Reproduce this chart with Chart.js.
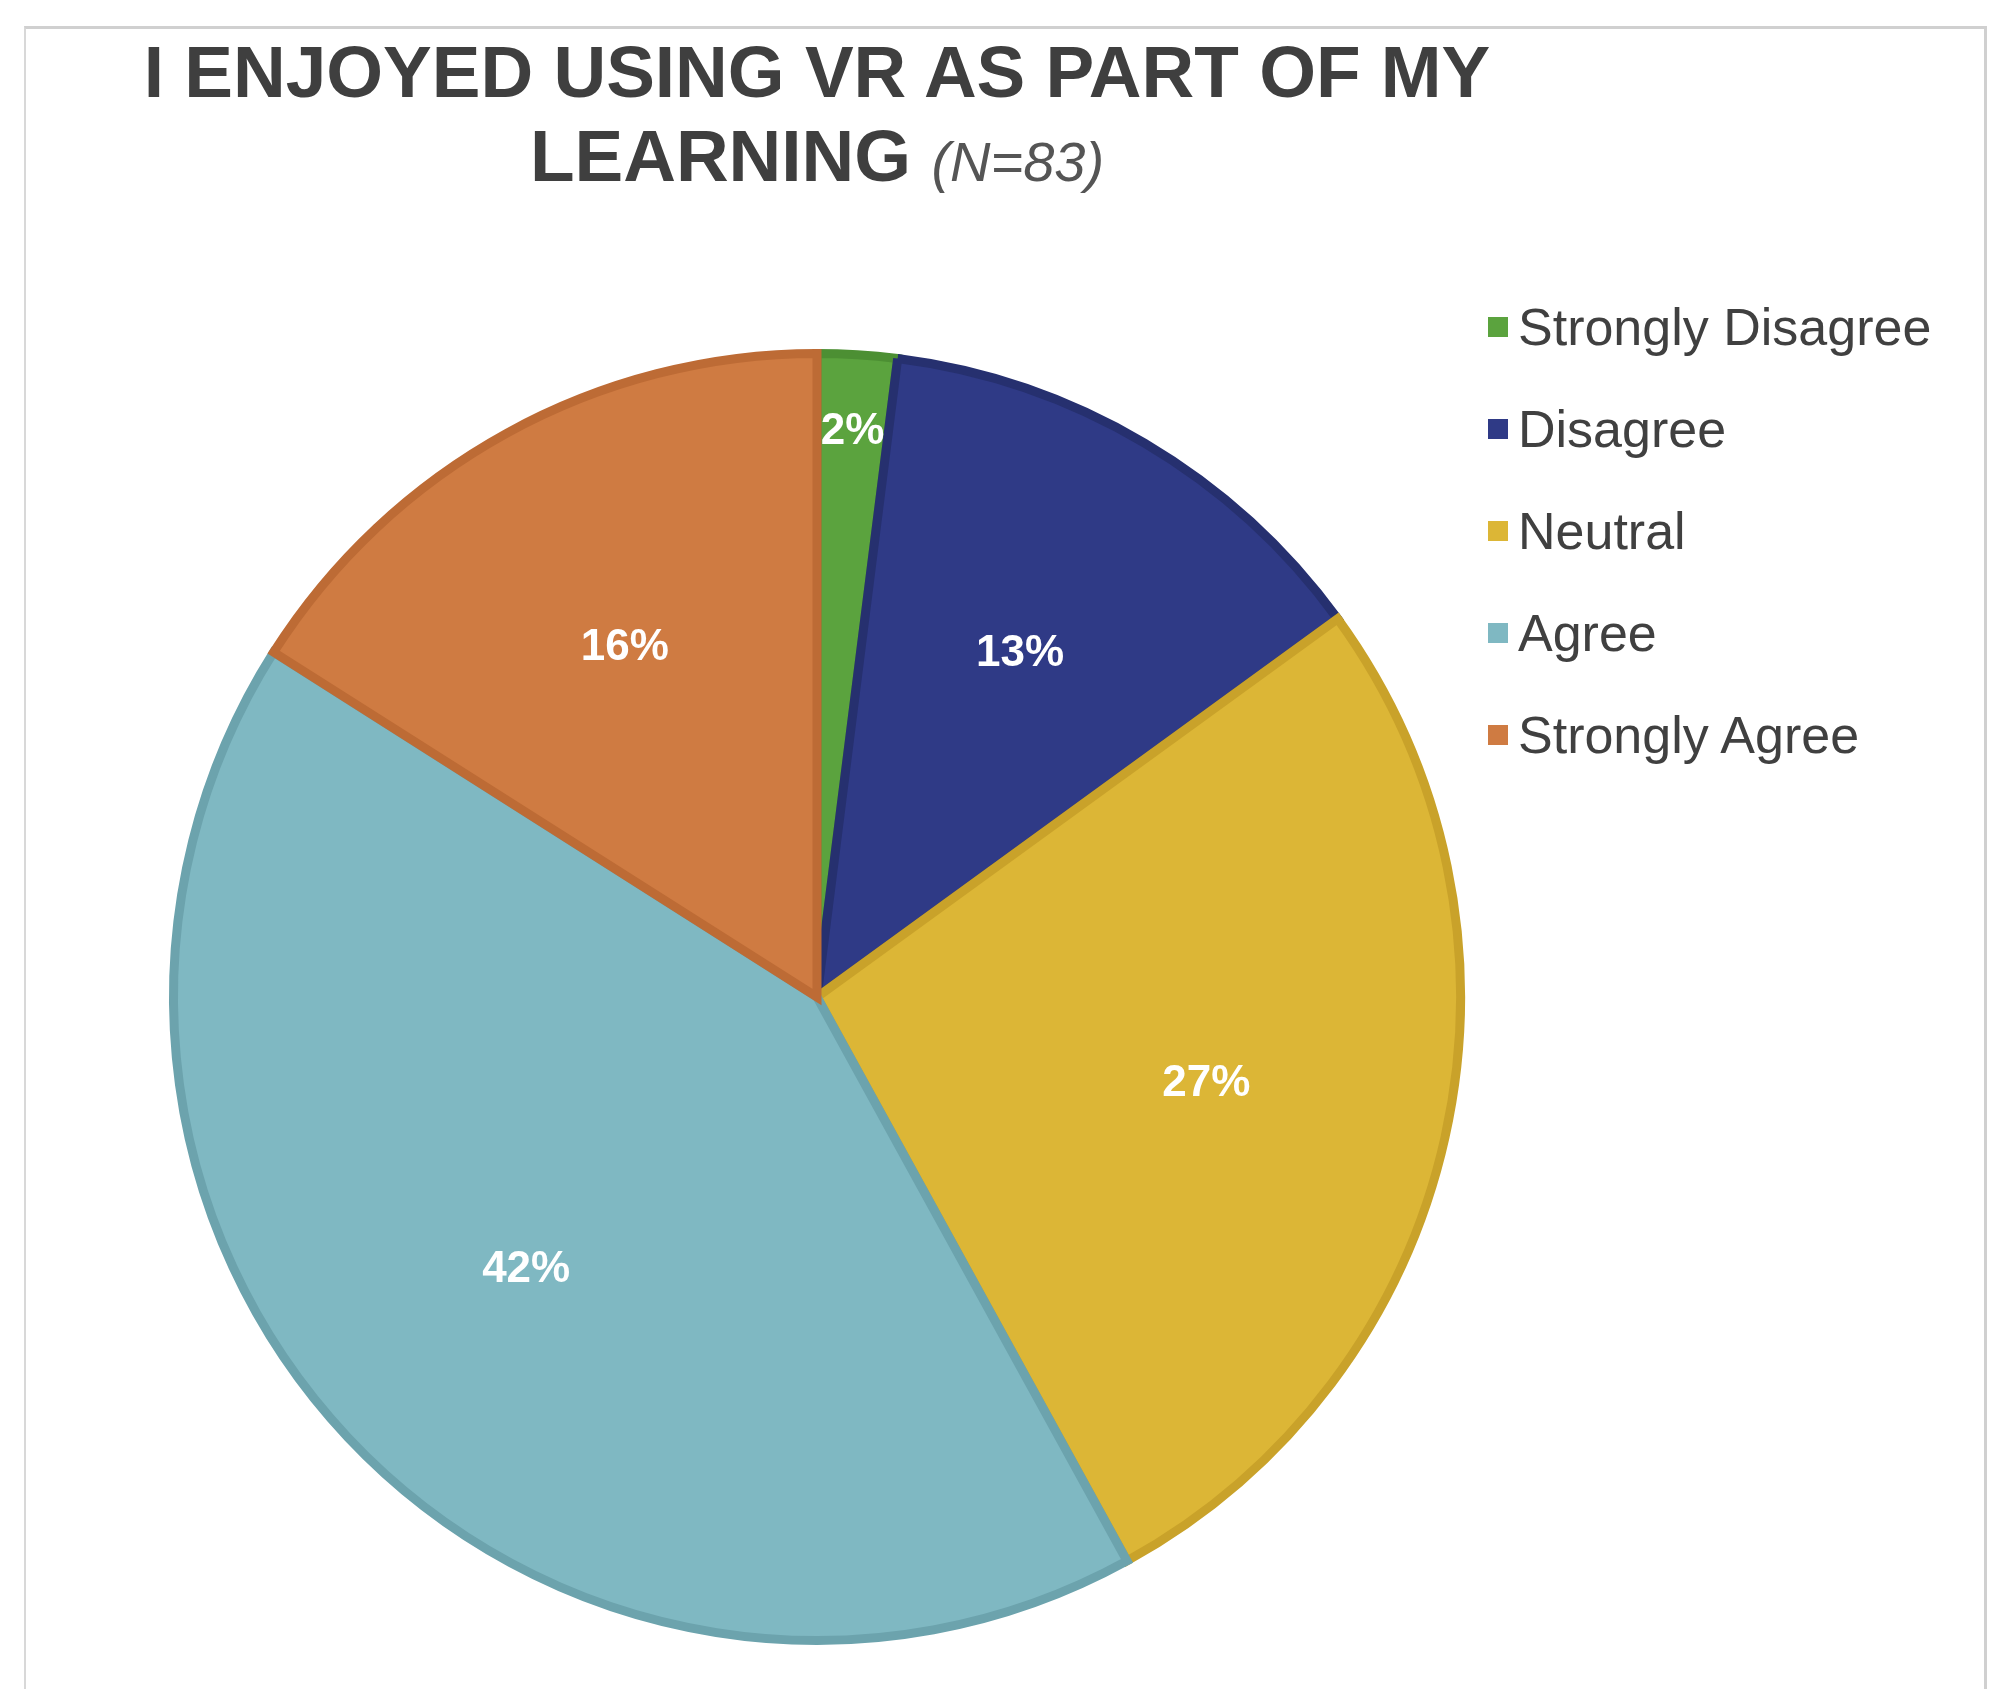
<!DOCTYPE html>
<html>
<head>
<meta charset="utf-8">
<script src="https://cdn.jsdelivr.net/npm/chart.js@4"></script>
<style>
  body { margin: 0; background: #fff; width: 2007px; height: 1705px; position: relative; overflow: hidden; font-family: "Liberation Sans", Arial, sans-serif; }
  #frame { position: absolute; left: 24px; top: 26px; width: 1958px; height: 1660px; border-top: 3px solid #d0d0d0; border-left: 2px solid #d8d8d8; border-right: 3px solid #d0d0d0; }
  #title { position: absolute; left: 0; width: 1634px; top: 30px; text-align: center; font-weight: bold; font-size: 73px; line-height: 84px; color: #3f3f3f; }
  #title .n { font-weight: normal; font-style: italic; font-size: 56px; color: #555; }
  #pieBox { position: absolute; left: 157px; top: 337px; width: 1320px; height: 1320px; }
  #legend { position: absolute; left: 1488px; top: 276px; font-size: 52px; color: #404040; }
  #legend div { height: 102px; display: flex; align-items: center; margin-top: 0; }
  #legend span.sw { display: inline-block; width: 20px; height: 20px; margin-right: 10px; }
</style>
</head>
<body>
<div id="frame"></div>
<div id="title">I ENJOYED USING VR AS PART OF MY<br>LEARNING <span class="n">(N=83)</span></div>
<div id="pieBox"><canvas id="pieChart"></canvas></div>
<div id="legend"></div>
<script>
const categories = ["Strongly Disagree", "Disagree", "Neutral", "Agree", "Strongly Agree"];
const percentages = [2, 13, 27, 42, 16];
const fillColors = ["#5ba33e", "#2f3a86", "#dcb636", "#7fb8c2", "#cf7b42"];
const edgeColors = ["#4c8f33", "#26306f", "#c9a22a", "#6ca3ad", "#bd6b35"];

const legend = document.getElementById("legend");
categories.forEach((name, i) => {
  const row = document.createElement("div");
  row.innerHTML = `<span class="sw" style="background:${fillColors[i]}"></span>${name}`;
  legend.appendChild(row);
});

const sliceLabels = {
  id: "sliceLabels",
  afterDatasetsDraw(chart) {
    const ctx = chart.ctx;
    ctx.save();
    ctx.fillStyle = "#ffffff";
    ctx.font = "bold 44px 'Liberation Sans', Arial, sans-serif";
    ctx.textAlign = "center";
    ctx.textBaseline = "middle";
    chart.getDatasetMeta(0).data.forEach((arc, i) => {
      const { x, y, startAngle, endAngle, outerRadius } = arc.getProps(["x", "y", "startAngle", "endAngle", "outerRadius"]);
      const mid = (startAngle + endAngle) / 2;
      const ratio = percentages[i] < 5 ? 0.88 : 0.62;
      ctx.fillText(percentages[i] + "%", x + Math.cos(mid) * outerRadius * ratio, y + Math.sin(mid) * outerRadius * ratio);
    });
    ctx.restore();
  }
};

new Chart(document.getElementById("pieChart"), {
  type: "pie",
  data: {
    labels: categories,
    datasets: [{
      data: percentages,
      backgroundColor: fillColors,
      borderColor: edgeColors,
      borderWidth: 9,
      borderJoinStyle: "miter"
    }]
  },
  options: {
    responsive: true,
    maintainAspectRatio: false,
    animation: false,
    layout: { padding: 12 },
    plugins: {
      legend: { display: false },
      tooltip: { enabled: false }
    }
  },
  plugins: [sliceLabels]
});
</script>
</body>
</html>
